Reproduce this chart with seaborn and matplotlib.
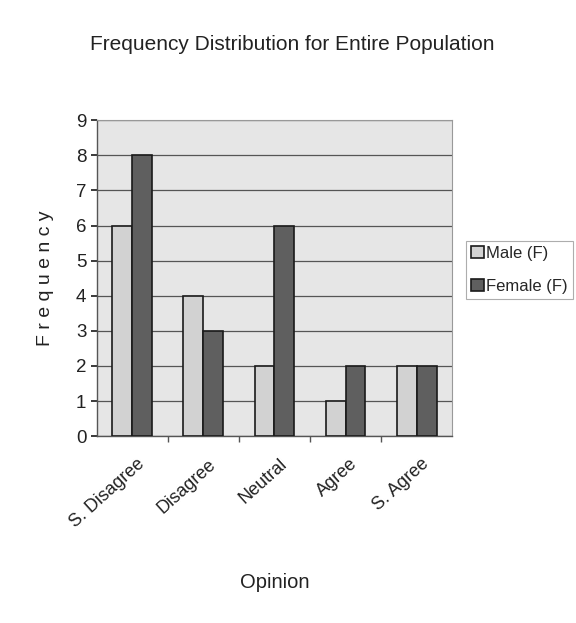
import matplotlib
matplotlib.use("Agg")
import matplotlib.pyplot as plt
import seaborn as sns
import pandas as pd

opinions = ["S. Disagree", "Disagree", "Neutral", "Agree", "S. Agree"]
male_counts = [6, 4, 2, 1, 2]
female_counts = [8, 3, 6, 2, 2]
series_names = ["Male (F)", "Female (F)"]
yticks = list(range(0, 10))

df = pd.DataFrame({
    "Opinion": opinions * 2,
    "Frequency": male_counts + female_counts,
    "Group": [series_names[0]] * len(opinions) + [series_names[1]] * len(opinions),
})

sns.set_theme(style="white")
plt.rcParams["font.family"] = ["Liberation Sans", "DejaVu Sans"]

fig = plt.figure(figsize=(5.76, 6.23), dpi=100)
fig.patch.set_facecolor("white")
ax = fig.add_axes([0.168, 0.300, 0.617, 0.507])
ax.set_facecolor("#e6e6e6")

sns.barplot(
    data=df, x="Opinion", y="Frequency", hue="Group",
    palette=["#d2d2d2", "#5f5f5f"], width=0.56, saturation=1,
    edgecolor="#1a1a1a", linewidth=1.2, ax=ax, zorder=3,
)

ax.set_ylim(0, 9)
ax.set_yticks(yticks)
ax.set_xlim(-0.5, len(opinions) - 0.5)
ax.yaxis.grid(True, color="#555555", linewidth=0.9, zorder=0)
ax.set_axisbelow(True)
for side in ["top", "right"]:
    ax.spines[side].set_color("#999999")
    ax.spines[side].set_linewidth(0.8)
for side in ["left", "bottom"]:
    ax.spines[side].set_color("#555555")
    ax.spines[side].set_linewidth(1.0)

ax.tick_params(axis="y", labelsize=13.5, colors="#222222", length=4, left=True)
ax.tick_params(axis="x", labelsize=13, colors="#222222", length=0, pad=14)
ax.set_xticks([i - 0.5 for i in range(1, len(opinions))], minor=True)
ax.tick_params(axis="x", which="minor", length=4, bottom=True, color="#555555")
shift = matplotlib.transforms.ScaledTranslation(3 / 72, 0, fig.dpi_scale_trans)
for lbl in ax.get_xticklabels():
    lbl.set_rotation(42)
    lbl.set_ha("right")
    lbl.set_rotation_mode("anchor")
    lbl.set_transform(lbl.get_transform() + shift)

ax.set_xlabel("Opinion", fontsize=14.5, color="#222222", labelpad=30)
ax.set_ylabel("F r e q u e n c y", fontsize=14, color="#222222", labelpad=16)

fig.text(0.507, 0.928, "Frequency Distribution for Entire Population",
         ha="center", va="center", fontsize=15, color="#222222")

leg = ax.legend(loc="upper left", bbox_to_anchor=(1.025, 0.635), frameon=True,
                fontsize=12, handlelength=0.75, handleheight=0.75,
                handletextpad=0.15, borderpad=0.3, labelspacing=1.1,
                borderaxespad=0.3,
                fancybox=False, edgecolor="#999999")
leg.get_frame().set_linewidth(0.8)
for h in leg.legend_handles:
    h.set_edgecolor("#1a1a1a")

fig.savefig("out.png", dpi=100, facecolor="white")
